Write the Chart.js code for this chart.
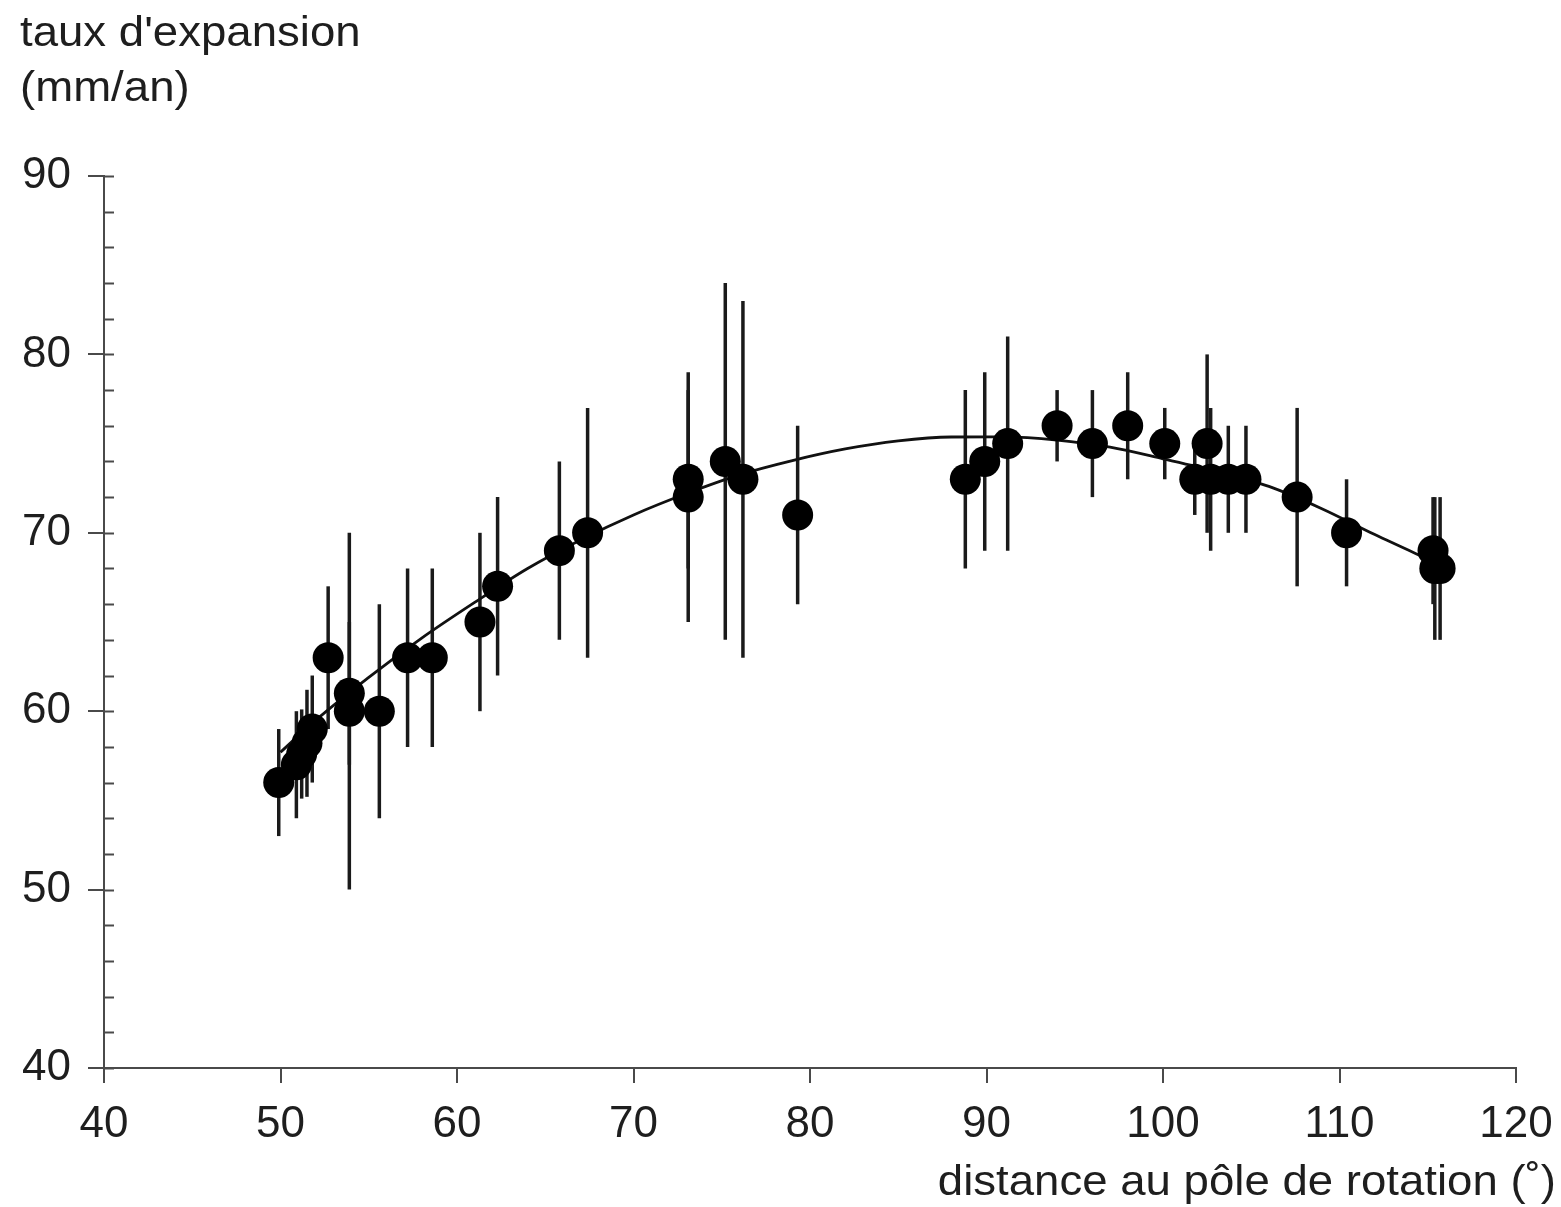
<!DOCTYPE html>
<html>
<head>
<meta charset="utf-8">
<script src="https://cdn.jsdelivr.net/npm/chart.js@4/dist/chart.umd.min.js"></script>
<style>
  html, body { margin: 0; padding: 0; background: #ffffff; }
  #wrap { width: 1561px; height: 1207px; position: relative; }
</style>
</head>
<body>
<div id="wrap"><canvas id="c" width="1561" height="1207"></canvas></div>
<script>
// ---- data ----
const distX   = [49.9, 50.9, 51.2, 51.5, 51.8, 52.7, 53.9, 53.9, 55.6, 57.2, 58.6, 61.3, 62.3, 65.8, 67.4, 73.1, 73.1, 75.2, 76.2, 79.3, 88.8, 89.9, 91.2, 94.0, 96.0, 98.0, 100.1, 102.5, 101.8, 102.7, 103.7, 104.7, 107.6, 110.4, 115.3, 115.4, 115.7];
const rateY   = [56, 57, 57.6, 58.2, 59, 63, 61, 60, 60, 63, 63, 65, 67, 69, 70, 73, 72, 74, 73, 71, 73, 74, 75, 76, 75, 76, 75, 75, 73, 73, 73, 73, 72, 70, 69, 68, 68];
const errLow  = [53, 54, 55.1, 55.2, 56, 59, 57, 50, 54, 58, 58, 60, 62, 64, 63, 68, 65, 64, 63, 66, 68, 69, 69, 74, 72, 73, 73, 70, 71, 69, 70, 70, 67, 67, 66, 64, 64];
const errHigh = [59, 60, 60.1, 61.2, 62, 67, 65, 70, 66, 68, 68, 70, 72, 74, 77, 78, 79, 84, 83, 76, 78, 79, 81, 78, 78, 79, 77, 80, 75, 77, 76, 76, 77, 73, 72, 72, 72];

const fitX = [50, 52, 55, 58, 61, 64, 67, 70, 73, 76, 79, 82, 85, 88, 91, 94, 97, 100, 103, 106, 109, 112, 115.5];
const fitY = [57.7, 59.5, 61.9, 64.1, 66.1, 68.0, 69.6, 71.0, 72.2, 73.25, 74.05, 74.7, 75.15, 75.37, 75.38, 75.2, 74.8, 74.15, 73.45, 72.6, 71.35, 69.9, 68.3];

const xTicks = [40, 50, 60, 70, 80, 90, 100, 110, 120];
const yTicks = [40, 50, 60, 70, 80, 90];
const yMinorTicks = [40, 42, 44, 46, 48, 50, 52, 54, 56, 58, 60, 62, 64, 66, 68, 70, 72, 74, 76, 78, 80, 82, 84, 86, 88, 90];

const yTitleLines = ["taux d'expansion", "(mm/an)"];
const xTitle = "distance au pôle de rotation (˚)";

// ---- chart ----
const FONT = '"Liberation Sans", Arial, Helvetica, sans-serif';
const AXIS_COLOR = '#4a4a4a';
const TEXT_COLOR = '#1e1e1e';

const points = distX.map((x, i) => ({ x: x, y: rateY[i] }));
const curve = fitX.map((x, i) => ({ x: x, y: fitY[i] }));

const errorBars = {
  id: 'errorBars',
  beforeDatasetsDraw(chart) {
    const { ctx, scales: { x, y } } = chart;
    ctx.save();
    ctx.strokeStyle = '#1a1a1a';
    ctx.lineWidth = 3.5;
    ctx.lineCap = 'butt';
    for (let i = 0; i < distX.length; i++) {
      const px = x.getPixelForValue(distX[i]);
      ctx.beginPath();
      ctx.moveTo(px, y.getPixelForValue(errLow[i]));
      ctx.lineTo(px, y.getPixelForValue(errHigh[i]));
      ctx.stroke();
    }
    ctx.restore();
  }
};

function stretchedText(ctx, text, x, y, align, sx) {
  ctx.save();
  ctx.translate(x, y);
  ctx.scale(sx, 1);
  ctx.textAlign = align;
  ctx.fillText(text, 0, 0);
  ctx.restore();
}

const decorations = {
  id: 'decorations',
  afterDraw(chart) {
    const { ctx, scales: { x, y } } = chart;
    ctx.save();
    // inward minor/major ticks on the y axis
    ctx.strokeStyle = AXIS_COLOR;
    ctx.lineWidth = 2;
    const ax = x.getPixelForValue(40);
    yMinorTicks.forEach(v => {
      const py = Math.round(y.getPixelForValue(v)) + 0.5;
      ctx.beginPath();
      ctx.moveTo(ax, py);
      ctx.lineTo(ax + 10, py);
      ctx.stroke();
    });
    // titles
    ctx.fillStyle = TEXT_COLOR;
    ctx.font = '43px ' + FONT;
    ctx.textBaseline = 'alphabetic';
    stretchedText(ctx, yTitleLines[0], 20, 46, 'left', 1.06);
    stretchedText(ctx, yTitleLines[1], 20, 101, 'left', 1.06);
    stretchedText(ctx, xTitle, 1556, 1195, 'right', 1.06);
    ctx.restore();
  }
};

new Chart(document.getElementById('c'), {
  type: 'scatter',
  data: {
    datasets: [
      {
        type: 'scatter',
        data: points,
        pointRadius: 15.5,
        pointHoverRadius: 15.5,
        backgroundColor: '#000000',
        borderColor: '#000000',
        borderWidth: 0,
        order: 0
      },
      {
        type: 'line',
        data: curve,
        borderColor: '#111111',
        borderWidth: 2.8,
        pointRadius: 0,
        fill: false,
        showLine: true,
        cubicInterpolationMode: 'monotone',
        order: 1
      }
    ]
  },
  options: {
    responsive: false,
    animation: false,
    devicePixelRatio: 1,
    layout: { padding: { top: 176, right: 45, left: 0, bottom: 0 } },
    plugins: { legend: { display: false }, tooltip: { enabled: false } },
    scales: {
      x: {
        type: 'linear',
        min: 40, max: 120,
        afterBuildTicks: s => { s.ticks = xTicks.map(v => ({ value: v })); },
        afterFit: s => { s.height = 139; s.paddingLeft = 0; s.paddingRight = 0; },
        ticks: { color: TEXT_COLOR, font: { family: FONT, size: 44 }, padding: 15, maxRotation: 0 },
        grid: { drawOnChartArea: false, drawTicks: true, tickLength: 15, color: AXIS_COLOR, lineWidth: 2 },
        border: { display: true, color: AXIS_COLOR, width: 2 }
      },
      y: {
        type: 'linear',
        min: 40, max: 90,
        afterBuildTicks: s => { s.ticks = yTicks.map(v => ({ value: v })); },
        afterFit: s => { s.width = 104; s.paddingTop = 0; s.paddingBottom = 0; },
        ticks: { color: TEXT_COLOR, font: { family: FONT, size: 44 }, padding: 17 },
        grid: { drawOnChartArea: false, drawTicks: true, tickLength: 16, color: AXIS_COLOR, lineWidth: 2 },
        border: { display: true, color: AXIS_COLOR, width: 2 }
      }
    }
  },
  plugins: [errorBars, decorations]
});
</script>
</body>
</html>
